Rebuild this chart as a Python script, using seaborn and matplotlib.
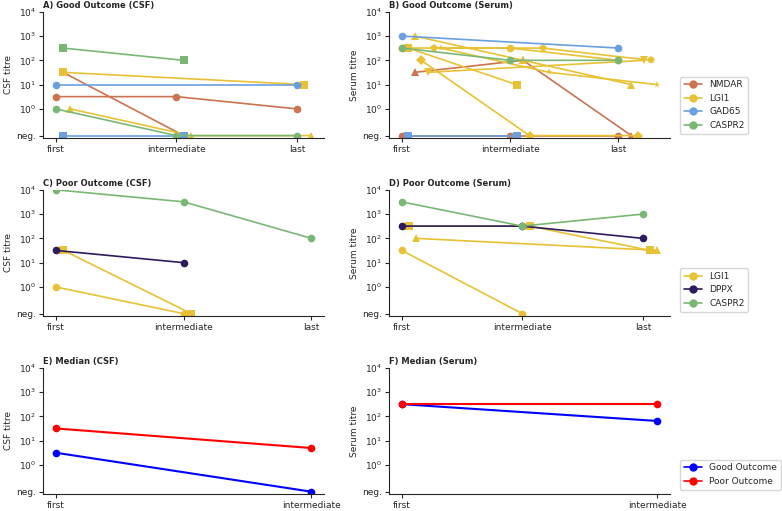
import numpy as np
import pandas as pd
import seaborn as sns
import matplotlib.pyplot as plt
from matplotlib.lines import Line2D

# titres per patient; 0 = negative, None = not measured
NEG = 10 ** -1.1
TIMES = ['first', 'intermediate', 'last']
OFFSET = 0.06
MARKERS = {0: 'o', 1: 's', 2: '^', 3: 'D', 4: 'v', 5: 'p', 6: '*'}
COLORS = {'NMDAR': '#cc7350', 'LGI1': '#e8c234', 'GAD65': '#6a9fe0',
          'CASPR2': '#78b874', 'DPPX': '#2e1a5e'}

# A) Good outcome, CSF
a_antibody = ['NMDAR', 'NMDAR', 'LGI1', 'LGI1', 'GAD65', 'GAD65', 'CASPR2', 'CASPR2']
a_patient = [0, 1, 1, 2, 0, 1, 1, 0]
a_first = [3.2, 32, 32, 1, 10, 0, 320, 1]
a_inter = [3.2, 0, None, 0, None, 0, 100, 0]
a_last = [1, None, 10, 0, 10, None, None, 0]

# B) Good outcome, serum
b_antibody = ['NMDAR', 'NMDAR', 'NMDAR', 'LGI1', 'LGI1', 'LGI1', 'LGI1', 'LGI1',
              'LGI1', 'LGI1', 'GAD65', 'GAD65', 'CASPR2']
b_patient = [0, 1, 2, 0, 1, 2, 3, 4, 5, 6, 0, 1, 0]
b_first = [0, 0, 32, 320, 320, 1000, 100, 32, 320, 320, 1000, 0, 320]
b_inter = [0, 0, 100, 320, 10, 100, 0, None, 320, 32, None, 0, 100]
b_last = [0, None, 0, 100, None, 10, 0, 100, 100, 10, 320, None, 100]

# C) Poor outcome, CSF
c_antibody = ['LGI1', 'LGI1', 'DPPX', 'CASPR2']
c_patient = [0, 1, 0, 0]
c_first = [1, 32, 32, 10000]
c_inter = [0, 0, 10, 3200]
c_last = [None, None, None, 100]

# D) Poor outcome, serum
d_antibody = ['LGI1', 'LGI1', 'LGI1', 'DPPX', 'CASPR2']
d_patient = [0, 1, 2, 0, 0]
d_first = [32, 320, 100, 320, 3200]
d_inter = [0, 320, None, 320, 320]
d_last = [None, 32, 32, 100, 1000]

# E/F) Medians
median_groups = ['Good Outcome', 'Poor Outcome']
median_colors = {'Good Outcome': 'blue', 'Poor Outcome': 'red'}
e_first = [3.2, 32]
e_inter = [0, 5]
f_first = [320, 320]
f_inter = [65, 320]


def build_frame(antibody, patient, first, inter, last=None):
    cols = [first, inter] if last is None else [first, inter, last]
    rows = []
    for i in range(len(antibody)):
        for t, vals in enumerate(cols):
            v = vals[i]
            if v is None:
                continue
            rows.append({'antibody': antibody[i], 'patient': patient[i], 'unit': i,
                         'x': t + OFFSET * patient[i],
                         'titre': NEG if v == 0 else v})
    return pd.DataFrame(rows)


def style_axis(ax, title, ylabel, n_times):
    ax.set_yscale('log')
    ax.minorticks_off()
    ax.set_ylim(10 ** -1.2, 10 ** 4)
    ax.set_yticks([NEG, 1, 10, 100, 1000, 10000])
    ax.set_yticklabels(['neg.'] + [f'$10^{{{k}}}$' for k in range(5)])
    ax.set_xticks(range(n_times))
    ax.set_xticklabels(TIMES[:n_times])
    ax.set_xlabel('')
    ax.set_ylabel(ylabel, fontsize=6.5, labelpad=2)
    ax.set_title(title, loc='left', fontsize=6, fontweight='bold', pad=3)
    ax.tick_params(labelsize=6.5, length=3, pad=2)
    sns.despine(ax=ax)


def add_legend(ax, labels, colors):
    handles = [Line2D([], [], color=colors[l], marker='o', markersize=5, lw=1.2)
               for l in labels]
    ax.legend(handles, labels, loc='lower left', bbox_to_anchor=(1.02, 0),
              fontsize=6.5, frameon=True)


sns.set_style('ticks')
fig, axes = plt.subplots(3, 2, figsize=(7.82, 5.11), dpi=100)
fig.subplots_adjust(left=0.055, right=0.857, top=0.977, bottom=0.033,
                    wspace=0.23, hspace=0.41)

panels = [
    (axes[0, 0], build_frame(a_antibody, a_patient, a_first, a_inter, a_last),
     ['NMDAR', 'LGI1', 'GAD65', 'CASPR2'], 'A) Good Outcome (CSF)', 'CSF titre'),
    (axes[0, 1], build_frame(b_antibody, b_patient, b_first, b_inter, b_last),
     ['NMDAR', 'LGI1', 'GAD65', 'CASPR2'], 'B) Good Outcome (Serum)', 'Serum titre'),
    (axes[1, 0], build_frame(c_antibody, c_patient, c_first, c_inter, c_last),
     ['LGI1', 'DPPX', 'CASPR2'], 'C) Poor Outcome (CSF)', 'CSF titre'),
    (axes[1, 1], build_frame(d_antibody, d_patient, d_first, d_inter, d_last),
     ['LGI1', 'DPPX', 'CASPR2'], 'D) Poor Outcome (Serum)', 'Serum titre'),
]

for ax, df, order, title, ylabel in panels:
    sns.lineplot(data=df, x='x', y='titre', hue='antibody', hue_order=order,
                 style='patient', markers=MARKERS, dashes=False, units='unit',
                 estimator=None, palette=COLORS, legend=False, ax=ax,
                 markersize=5.5, markeredgewidth=0, linewidth=1.2)
    style_axis(ax, title, ylabel, 3)

add_legend(axes[0, 1], ['NMDAR', 'LGI1', 'GAD65', 'CASPR2'], COLORS)
add_legend(axes[1, 1], ['LGI1', 'DPPX', 'CASPR2'], COLORS)

for ax, first, inter, title, ylabel in [
        (axes[2, 0], e_first, e_inter, 'E) Median (CSF)', 'CSF titre'),
        (axes[2, 1], f_first, f_inter, 'F) Median (Serum)', 'Serum titre')]:
    df = build_frame(median_groups, [0, 0], first, inter)
    sns.lineplot(data=df, x='x', y='titre', hue='antibody', hue_order=median_groups,
                 palette=median_colors, marker='o', markersize=5.5, markeredgewidth=0,
                 linewidth=1.5, legend=False, ax=ax)
    style_axis(ax, title, ylabel, 2)

add_legend(axes[2, 1], median_groups, median_colors)

plt.savefig('out.png', dpi=100)
